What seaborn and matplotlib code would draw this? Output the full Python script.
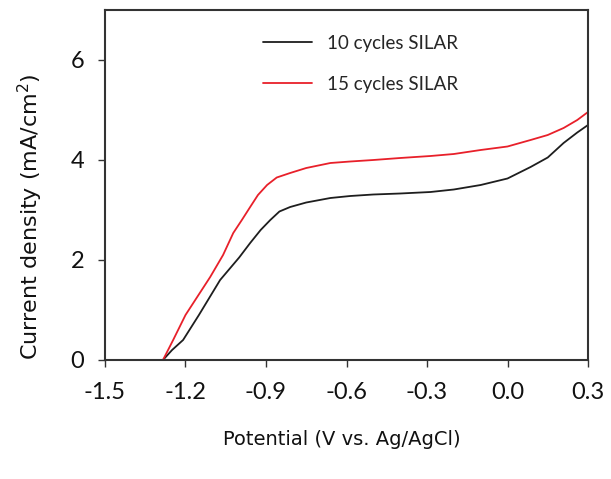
import matplotlib
matplotlib.use("Agg")
import matplotlib.pyplot as plt
import seaborn as sns
import pandas as pd

# Data
series_names = ["10 cycles SILAR", "15 cycles SILAR"]

potential_10 = [-1.284, -1.25, -1.209, -1.15, -1.071, -1.0, -0.959, -0.92, -0.884, -0.85,
                -0.81, -0.75, -0.66, -0.586, -0.5, -0.4, -0.287, -0.2, -0.1, 0.0,
                0.086, 0.15, 0.209, 0.26, 0.3]
current_10 = [0.0, 0.2, 0.4, 0.9, 1.6, 2.05, 2.34, 2.6, 2.8, 2.97,
              3.06, 3.15, 3.24, 3.28, 3.31, 3.33, 3.36, 3.41, 3.5, 3.63,
              3.86, 4.05, 4.34, 4.55, 4.7]

potential_15 = [-1.284, -1.246, -1.2, -1.108, -1.06, -1.022, -0.99, -0.959, -0.93, -0.896,
                -0.86, -0.81, -0.75, -0.66, -0.586, -0.5, -0.4, -0.287, -0.2, -0.1,
                0.0, 0.086, 0.15, 0.209, 0.26, 0.3]
current_15 = [0.0, 0.4, 0.9, 1.66, 2.1, 2.54, 2.8, 3.06, 3.3, 3.5,
              3.65, 3.74, 3.84, 3.94, 3.97, 4.0, 4.04, 4.08, 4.12, 4.2,
              4.27, 4.4, 4.5, 4.64, 4.8, 4.96]

x_ticks = [-1.5, -1.2, -0.9, -0.6, -0.3, 0.0, 0.3]
x_tick_labels = ["-1.5", "-1.2", "-0.9", "-0.6", "-0.3", "0.0", "0.3"]
y_ticks = [0, 2, 4, 6]

df = pd.concat([
    pd.DataFrame({"Potential": potential_10, "Current": current_10, "Sample": series_names[0]}),
    pd.DataFrame({"Potential": potential_15, "Current": current_15, "Sample": series_names[1]}),
], ignore_index=True)

sns.set_theme(style="ticks")
plt.rcParams["font.family"] = ["DejaVu Sans"]

fig = plt.figure(figsize=(6.11, 4.79), dpi=100)
ax = fig.add_axes([105/611, 1 - 360/479, 483/611, 350/479])

sns.lineplot(data=df, x="Potential", y="Current", hue="Sample",
             palette={series_names[0]: "#1e1e1e", series_names[1]: "#e8202a"},
             estimator=None, sort=False, linewidth=1.3, ax=ax)

ax.set_xlim(-1.5, 0.3)
ax.set_ylim(0, 7)
ax.set_xticks(x_ticks)
ax.set_xticklabels(x_tick_labels)
ax.set_yticks(y_ticks)
ax.tick_params(axis="both", direction="out", length=5, width=1, color="#333333",
               labelsize=17, labelcolor="#111111")
ax.tick_params(axis="x", pad=11)
ax.tick_params(axis="y", pad=10)
for lab in ax.get_xticklabels() + ax.get_yticklabels():
    lab.set_family(["Lato", "DejaVu Sans"])

for s in ax.spines.values():
    s.set_visible(True)
    s.set_linewidth(1.5)
    s.set_color("#333333")

ax.set_xlabel("Potential (V vs. Ag/AgCl)", fontsize=14, color="#111111")
ax.set_ylabel("Current density (mA/cm$^2$)", fontsize=16, color="#111111")
ax.xaxis.set_label_coords(0.49, -0.20)
ax.yaxis.set_label_coords(-0.125, 0.41)

leg = ax.legend(loc="upper left", bbox_to_anchor=(0.327, 0.93), frameon=False,
                handlelength=2.6, handletextpad=0.8, labelspacing=1.3,
                borderpad=0, borderaxespad=0,
                prop={"family": ["Lato", "DejaVu Sans"], "size": 13.5})

fig.savefig("out.png", dpi=100)
